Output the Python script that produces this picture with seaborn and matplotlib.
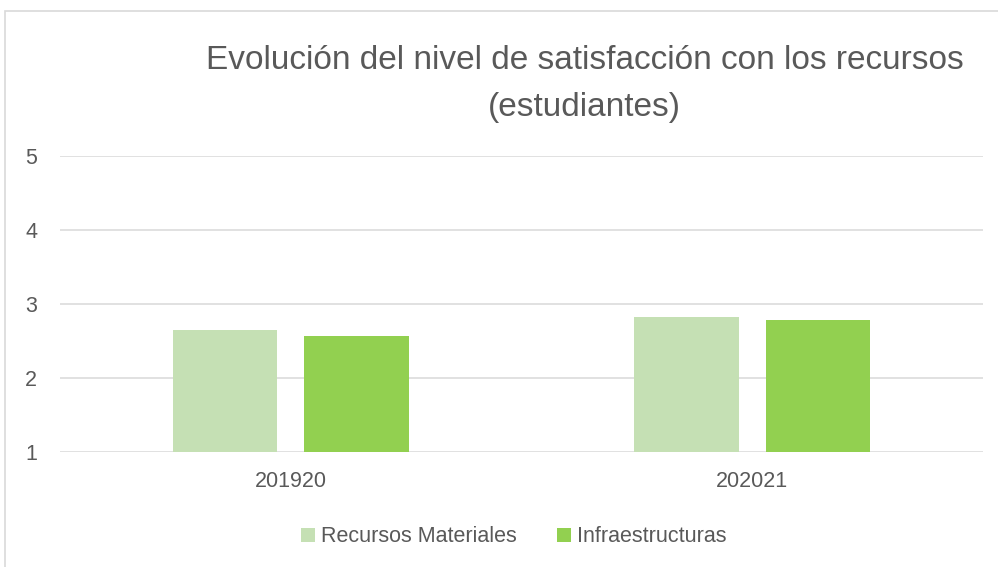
import matplotlib
matplotlib.use("Agg")
import matplotlib.pyplot as plt
import seaborn as sns
import pandas as pd
from matplotlib.patches import Rectangle, Patch

categories = ["201920", "202021"]
series_names = ["Recursos Materiales", "Infraestructuras"]
recursos_materiales = [2.65, 2.82]
infraestructuras = [2.57, 2.78]
y_ticks = [1, 2, 3, 4, 5]
colors = ["#C5E0B4", "#92D050"]

df = pd.DataFrame({
    "curso": categories * 2,
    "serie": [series_names[0]] * 2 + [series_names[1]] * 2,
    "valor": recursos_materiales + infraestructuras,
})

sns.set_theme(style="white")
plt.rcParams["font.family"] = ["Liberation Sans", "DejaVu Sans"]

fig = plt.figure(figsize=(9.98, 5.67), dpi=100)
ax = fig.add_axes([60 / 998, 1 - 452 / 567, 923 / 998, 296 / 567])

sns.barplot(data=df, x="curso", y="valor", hue="serie", order=categories,
            hue_order=series_names, palette=colors, width=0.57, gap=0.206,
            ax=ax, legend=False, saturation=1, edgecolor="none")

ax.set_ylim(1, 5)
ax.set_yticks(y_ticks)
ax.set_xlim(-0.5, 1.5)
ax.yaxis.grid(True, color="#D9D9D9", linewidth=1.1)
ax.set_axisbelow(True)
for s in ax.spines.values():
    s.set_visible(False)
ax.set_xlabel("")
ax.set_ylabel("")
ax.tick_params(axis="y", length=0, pad=16.5, labelsize=15.5, labelcolor="#595959")
ax.tick_params(axis="x", length=0, pad=14, labelsize=15.5, labelcolor="#595959")

fig.text(585 / 998, 1 - 69 / 567, "Evolución del nivel de satisfacción con los recursos",
         ha="center", va="baseline", fontsize=24, color="#595959")
fig.text(584 / 998, 1 - 116 / 567, "(estudiantes)",
         ha="center", va="baseline", fontsize=24, color="#595959")

handles = [Patch(facecolor=c, edgecolor="none") for c in colors]
fig.legend(handles, series_names, loc="center", bbox_to_anchor=(514 / 998, 1 - 537 / 567),
           ncol=2, frameon=False, fontsize=15.5, labelcolor="#595959",
           handlelength=0.65, handleheight=0.65, handletextpad=0.3, columnspacing=1.85)

fig.patches.append(Rectangle((4.5 / 998, -0.1), 2.0, (1 - 11 / 567) + 0.1,
                             transform=fig.transFigure, fill=False,
                             edgecolor="#D9D9D9", linewidth=1.2))

fig.savefig("out.png", dpi=100)
